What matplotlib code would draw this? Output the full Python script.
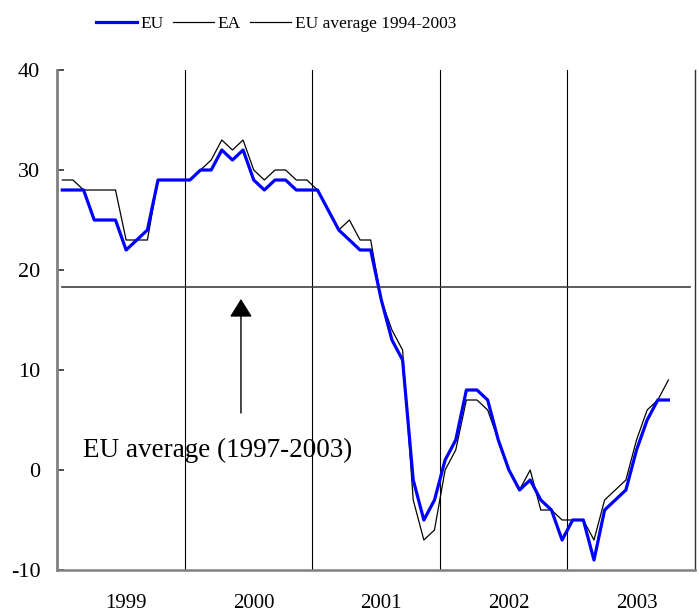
import matplotlib
matplotlib.use("Agg")
import matplotlib.pyplot as plt
import numpy as np

plt.rcParams['font.family'] = ['Liberation Serif', 'DejaVu Serif']

years = ["1999", "2000", "2001", "2002", "2003"]
eu = [28, 28, 28, 25, 25, 25, 22, 23, 24, 29, 29, 29,
      29, 30, 30, 32, 31, 32, 29, 28, 29, 29, 28, 28,
      28, 26, 24, 23, 22, 22, 17, 13, 11, -1, -5, -3,
      1, 3, 8, 8, 7, 3, 0, -2, -1, -3, -4, -7,
      -5, -5, -9, -4, -3, -2, 2, 5, 7, 7]
ea = [29, 29, 28, 28, 28, 28, 23, 23, 23, 29, 29, 29,
      29, 30, 31, 33, 32, 33, 30, 29, 30, 30, 29, 29,
      28, 26, 24, 25, 23, 23, 17, 14, 12, -3, -7, -6,
      0, 2, 7, 7, 6, 3, 0, -2, 0, -4, -4, -5,
      -5, -5, -7, -3, -2, -1, 3, 6, 7, 9]
n_months = 60
eu_avg = 18.3
annot_text = "EU average (1997-2003)"

fig = plt.figure(figsize=(6.99, 6.14), dpi=100)
ax = fig.add_axes([57/699, 44/614, 638/699, 500/614])

x_all = np.arange(n_months)
ax.plot(x_all, [eu_avg]*n_months, color='#404040', lw=1.2, label='EU average 1994-2003', zorder=2)
ax.plot(np.arange(len(ea)), ea, color='black', lw=0.9, label='EA', zorder=3)
ax.plot(np.arange(len(eu)), eu, color='#0000FF', lw=2.3, label='EU', zorder=4)

ax.set_xlim(-0.5, n_months - 0.5)
ax.set_ylim(-10, 40)
ax.set_yticks([-10, 0, 10, 20, 30, 40])
ax.set_yticklabels(['-10', '0', '10', '20', '30', '40'])
ax.set_xticks([6 + 12*k for k in range(len(years))])
ax.set_xticklabels(years)

for k in range(1, len(years)):
    ax.axvline(12*k - 0.5, color='black', lw=0.8, zorder=1)

ax.spines['top'].set_visible(False)
ax.spines['right'].set_color('#303030')
ax.spines['right'].set_linewidth(1.0)
ax.spines['left'].set_color('#808080')
ax.spines['left'].set_linewidth(2.0)
ax.spines['bottom'].set_color('#808080')
ax.spines['bottom'].set_linewidth(1.8)

ax.tick_params(axis='y', direction='in', length=5, width=1.2, color='#303030',
               labelsize=16, pad=12)
ax.tick_params(axis='x', length=0, labelsize=15, pad=17)

ax.annotate('', xy=(16.8, 17.1), xytext=(16.8, 5.7),
            arrowprops=dict(arrowstyle='-|>,head_length=0.45,head_width=0.28',
                            mutation_scale=25, color='black', lw=1.0,
                            shrinkA=0, shrinkB=0), zorder=5)
ax.text(1.95, 1.3, annot_text, fontsize=19.5, va='baseline', ha='left', zorder=6)

handles, labels = ax.get_legend_handles_labels()
order = [2, 1, 0]
leg = fig.legend([handles[i] for i in order], [labels[i] for i in order],
                 loc='center', bbox_to_anchor=(276/699, 1 - 24/614), ncol=3,
                 frameon=False, fontsize=12.5, handlelength=2.36, handletextpad=0.23,
                 columnspacing=0.52)
leg.legend_handles[2].set_color('black')
leg.legend_handles[2].set_linewidth(0.9)

fig.savefig('out.png', dpi=100)
